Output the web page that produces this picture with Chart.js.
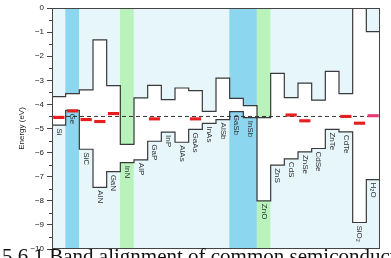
<!DOCTYPE html>
<html><head><meta charset="utf-8">
<script src="https://cdn.jsdelivr.net/npm/chart.js@4.4.1/dist/chart.umd.min.js"></script>
<style>
html,body{margin:0;padding:0;width:391px;height:258px;overflow:hidden;background:#fff;}
#wrap{position:relative;width:391px;height:258px;overflow:hidden;}
#c{position:absolute;left:0;top:0;}
#cap{position:absolute;left:2px;top:246px;font-family:"Liberation Serif","Times New Roman",serif;font-size:21px;line-height:21px;white-space:nowrap;color:#111;}
</style></head><body>
<div id="wrap"><canvas id="c" width="391" height="258"></canvas>
<div id="cap">5.6.1 Band alignment of common semiconductors relative to the hydrogen level</div></div>
<script>
// ---- data (eV, relative to vacuum) ----
const materials = ['Si','Ge','SiC','AlN','GaN','InN','AlP','GaP','InP','AlAs','GaAs','InAs','AlSb','GaSb','InSb','ZnO','ZnS','CdS','ZnSe','CdSe','ZnTe','CdTe','SiO\u2082','H\u2082O'];
const conductionBand = [-3.68,-3.55,-3.40,-1.32,-3.22,-5.66,-3.73,-3.21,-3.80,-3.32,-3.43,-4.29,-2.91,-3.75,-4.05,-4.55,-2.71,-3.72,-3.12,-3.82,-2.63,-3.55,0,-0.98];
const valenceBand    = [-4.86,-4.25,-5.86,-7.44,-6.79,-6.42,-6.30,-5.53,-5.15,-5.57,-5.04,-4.79,-4.63,-4.30,-4.55,-8.00,-6.52,-6.26,-5.97,-5.83,-5.04,-5.14,-8.90,-7.12];
const hydrogenLevel  = [-4.54,-4.27,-4.63,-4.71,-4.38,null,null,-4.60,null,null,-4.60,null,null,null,null,null,null,-4.44,-4.68,null,null,-4.50,-4.78,-4.47];
const columnKind     = ['l','b','l','l','l','g','l','l','l','l','l','l','l','b','b','g','l','l','l','l','l','l','l','l'];
const referenceLevel = -4.5;
const energyMin = -10, energyMax = 0;

// ---- styles ----
const kindColor = {l:'#e6f6fb', b:'#8dd6f0', g:'#b9f2bb'};
const fills = columnKind.map(k => kindColor[k]);
const markerColors = materials.map(m => m === 'H\u2082O' ? '#e43a72' : '#e51e1e');
const FONT = '"Liberation Sans", Arial, "DejaVu Sans", sans-serif';

const stepPoints = arr => arr.map((v,i)=>({x:i,y:v})).concat([{x:arr.length,y:arr[arr.length-1]}]);
const half = 0.065;

const framePlugin = {
  id:'frame',
  afterDatasetsDraw(chart){
    const {ctx, chartArea:a, scales:{x, y}} = chart;
    ctx.save();
    ctx.strokeStyle = '#444'; ctx.lineWidth = 1;
    ctx.strokeRect(a.left+0.5, a.top+0.5, a.right-a.left-1, a.bottom-a.top-1);
    for (let v = energyMax - 0.5; v > energyMin; v -= 1) {
      const py = Math.round(y.getPixelForValue(v)) + 0.5;
      ctx.beginPath(); ctx.moveTo(a.left-3, py); ctx.lineTo(a.left, py); ctx.stroke();
    }
    ctx.fillStyle = '#333';
    ctx.font = '8px ' + FONT;
    ctx.textAlign = 'left'; ctx.textBaseline = 'middle';
    materials.forEach((m,i)=>{
      const px = x.getPixelForValue(i);
      const py = y.getPixelForValue(valenceBand[i]) + 3;
      ctx.save(); ctx.translate(px, py); ctx.rotate(Math.PI/2); ctx.fillText(m,0,0); ctx.restore();
    });
    ctx.restore();
  }
};

new Chart(document.getElementById('c'), {
  type:'bar',
  data:{
    labels: materials,
    datasets:[
      {type:'bar', data: hydrogenLevel.map(h => h===null ? null : [h-half, h+half]), backgroundColor: markerColors,
       barPercentage:0.82, categoryPercentage:1, grouped:false, borderWidth:0, order:1},
      {type:'line', xAxisID:'x2', data:[{x:0,y:referenceLevel},{x:materials.length,y:referenceLevel}],
       borderColor:'#333', borderWidth:1, borderDash:[4,3], pointRadius:0, fill:false, order:2},
      {type:'line', xAxisID:'x2', data: stepPoints(conductionBand), stepped:true, borderColor:'#3a3a3a', borderWidth:1.2, pointRadius:0, fill:false, order:3},
      {type:'line', xAxisID:'x2', data: stepPoints(valenceBand), stepped:true, borderColor:'#3a3a3a', borderWidth:1.2, pointRadius:0, fill:false, order:3},
      {type:'bar', data: conductionBand.map(v => [v, energyMax]), backgroundColor: fills, barPercentage:1, categoryPercentage:1, grouped:false, borderWidth:0, order:5},
      {type:'bar', data: valenceBand.map(v => [energyMin, v]), backgroundColor: fills, barPercentage:1, categoryPercentage:1, grouped:false, borderWidth:0, order:5}
    ]
  },
  options:{
    responsive:false, animation:false, devicePixelRatio:1,
    layout:{ autoPadding:false, padding:{left:0, top:8, right:11, bottom:9} },
    plugins:{ legend:{display:false}, tooltip:{enabled:false} },
    scales:{
      x:{ type:'category', display:false, offset:true },
      x2:{ type:'linear', display:false, offset:false, min:0, max:materials.length, grid:{offset:false} },
      y:{ min:energyMin, max:energyMax, position:'left',
          ticks:{ stepSize:1, color:'#222', padding:3, font:{size:8, family:FONT},
                  callback: v => v === 0 ? '0' : '\u2212' + Math.abs(v) },
          grid:{ drawOnChartArea:false, drawTicks:true, tickLength:5, tickColor:'#444' },
          border:{ display:true, color:'#444' },
          title:{ display:true, text:'Energy (eV)', color:'#222', font:{size:8, family:FONT}, padding:{top:17, bottom:0} },
          afterFit(s){ s.width = 52; }
      }
    }
  },
  plugins:[framePlugin]
});
</script></body></html>
